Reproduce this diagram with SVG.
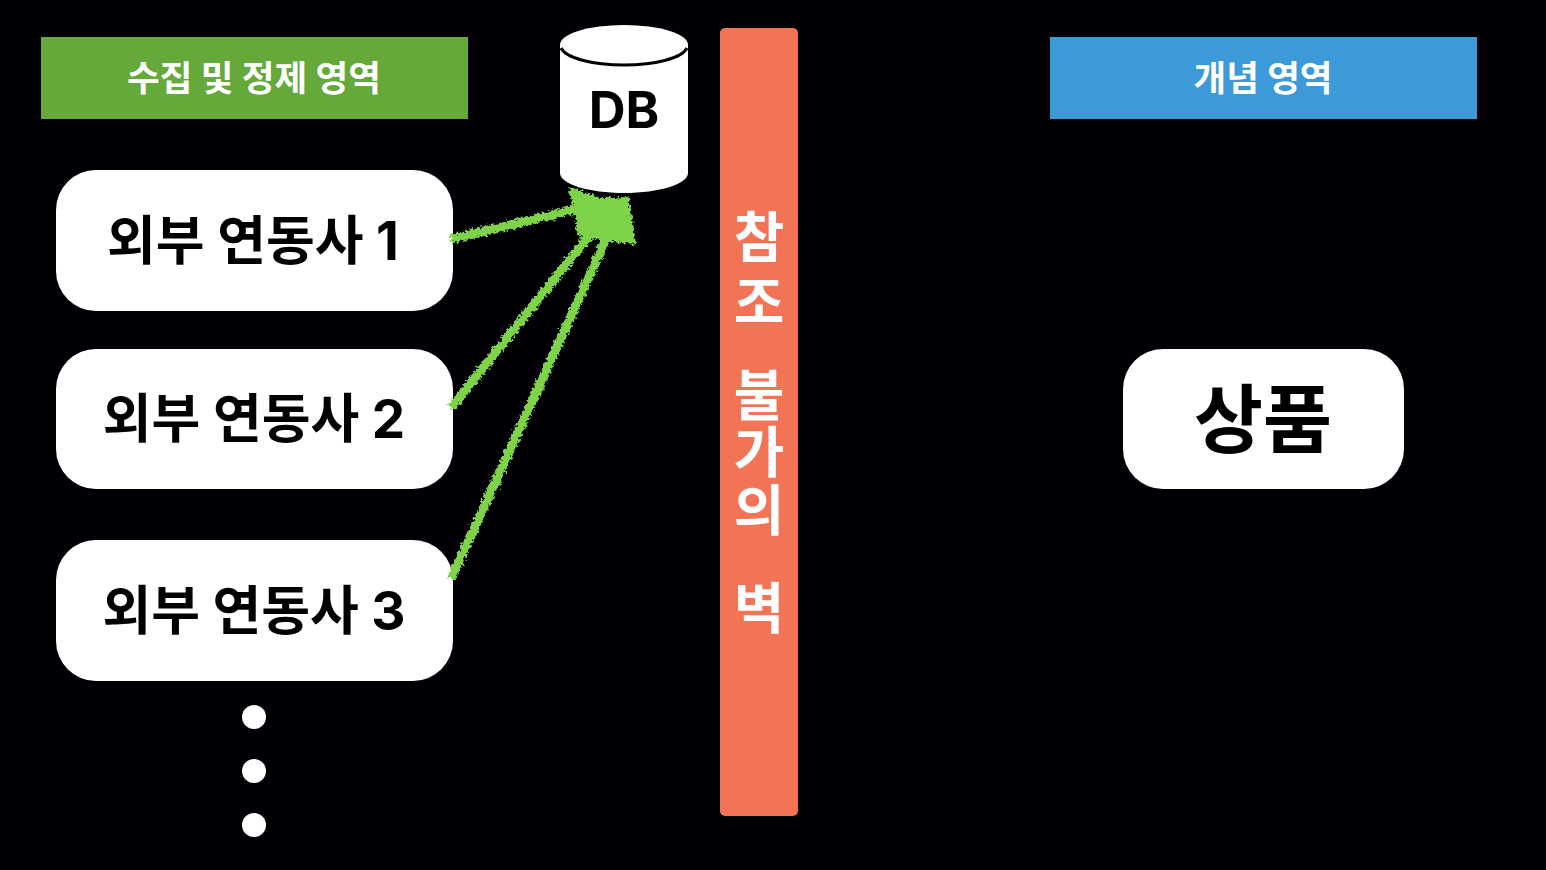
<svg xmlns="http://www.w3.org/2000/svg" width="1546" height="870" viewBox="0 0 1546 870">
<defs>
<filter id="rough" x="-10%" y="-10%" width="120%" height="120%"><feTurbulence type="fractalNoise" baseFrequency="0.35" numOctaves="3" seed="4"/><feDisplacementMap in="SourceGraphic" scale="8" xChannelSelector="R" yChannelSelector="G"/></filter>
<filter id="wobble" x="-5%" y="-2%" width="110%" height="104%"><feTurbulence type="fractalNoise" baseFrequency="0.05" numOctaves="1" seed="7"/><feDisplacementMap in="SourceGraphic" scale="2" xChannelSelector="R" yChannelSelector="G"/></filter>
</defs>
<style>
text{font-family:"Inter","Noto Sans CJK KR",sans-serif;font-weight:700;text-anchor:middle}
.node{fill:#fff}
.lbl{fill:#000;font-size:53px}
.hd{fill:#fff;font-size:35.5px}
.wall{fill:#fff;font-size:55px}
.arrow{stroke:#7ed348;stroke-width:9;fill:none}
</style>
<rect width="1546" height="870" fill="#030005"/>
<g id="header-collect"><rect x="41" y="37" width="427" height="82" fill="#65a93b"/><text class="hd" x="254" y="91">수집 및 정제 영역</text></g>
<g id="header-concept"><rect x="1050" y="37" width="427" height="82" fill="#3d9ad9"/><text class="hd" x="1263" y="91">개념 영역</text></g>
<g id="partner-1"><rect class="node" x="56" y="170" width="397" height="141" rx="40"/><text class="lbl" x="253" y="260">외부 연동사 1</text></g>
<g id="partner-2"><rect class="node" x="56" y="349" width="397" height="140" rx="40"/><text class="lbl" x="254" y="438">외부 연동사 2</text></g>
<g id="partner-3"><rect class="node" x="56" y="540" width="397" height="141" rx="40"/><text class="lbl" x="254" y="630">외부 연동사 3</text></g>
<g id="product"><rect class="node" x="1123" y="349" width="281" height="140" rx="40"/><text x="1263" y="447" font-size="75" fill="#000">상품</text></g>
<g id="more"><circle cx="254" cy="717" r="12" fill="#fff"/><circle cx="254" cy="771" r="12" fill="#fff"/><circle cx="254" cy="825" r="12" fill="#fff"/></g>
<g id="db">
<path d="M560 45V173C560 184 589 193 624 193S688 184 688 173V45Z" fill="#fff"/>
<ellipse cx="624" cy="45" rx="64" ry="20" fill="#fff"/>
<path d="M561 48C566 58 592 65 624 65S682 58 687 48" fill="none" stroke="#030005" stroke-width="3"/>
<text x="624" y="128" font-size="51" fill="#000">DB</text>
</g>
<g id="wall">
<rect x="720" y="28" width="78" height="788" rx="5" fill="#f27356" filter="url(#wobble)"/>
<text class="wall" x="759" y="257">참</text><text class="wall" x="759" y="322">조</text><text class="wall" x="759" y="415">불</text><text class="wall" x="759" y="472">가</text><text class="wall" x="759" y="530">의</text><text class="wall" x="759" y="628">벽</text>
</g>
<g id="connectors" filter="url(#rough)">
<path class="arrow" d="M451 239L590 206"/>
<path class="arrow" d="M451 408L592 232"/>
<path class="arrow" d="M451 579L608 235"/>
<polygon points="568,186 600,198 629,197 636,245 600,240 578,235 573,205" fill="#7ed348"/>
</g>
</svg>
